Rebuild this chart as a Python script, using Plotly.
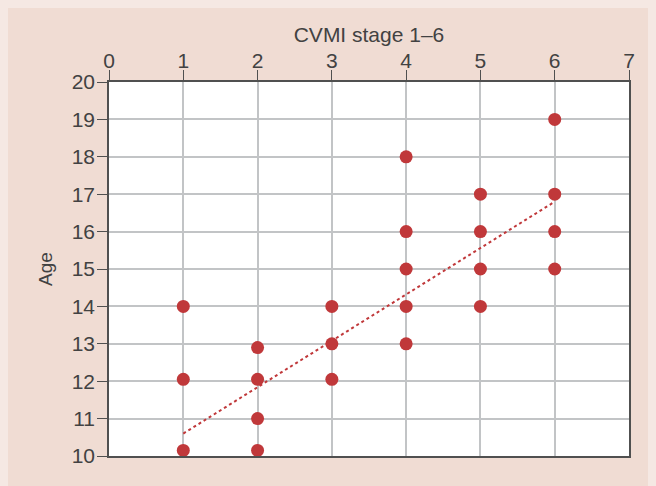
"""Age vs CVMI stage scatter with trend line."""

import plotly.graph_objects as go

STAGE = [1, 1, 1, 2, 2, 2, 2, 3, 3, 3, 4, 4, 4, 4, 4, 5, 5, 5, 5, 6, 6, 6, 6]
AGE = [10.15, 12.05, 14, 10.15, 11, 12.05, 12.9, 12.05, 13, 14,
       13, 14, 15, 16, 18, 14, 15, 16, 17, 15, 16, 17, 19]

TREND_X = [1, 6]
TREND_Y = [10.6, 16.8]

X_TICKS = list(range(0, 8))
Y_TICKS = list(range(10, 21))

DOT = "#c0383a"
TEXT = "#424242"
AXIS = "#505050"
GRID = "#c2c4c6"


def main() -> None:
    fig = go.Figure()

    fig.add_trace(
        go.Scatter(
            x=TREND_X,
            y=TREND_Y,
            mode="lines",
            line=dict(color=DOT, width=2, dash="dot"),
            showlegend=False,
            hoverinfo="skip",
        )
    )
    fig.add_trace(
        go.Scatter(
            x=STAGE,
            y=AGE,
            mode="markers",
            marker=dict(color=DOT, size=13),
            showlegend=False,
        )
    )

    fig.update_layout(
        width=656,
        height=486,
        paper_bgcolor="#f0dcd3",
        plot_bgcolor="#ffffff",
        margin=dict(l=101, r=35, t=74, b=38),
        font=dict(family="Liberation Sans, Arial, sans-serif", size=21, color=TEXT),
    )
    axis_style = dict(
        showgrid=True,
        gridcolor=GRID,
        gridwidth=1.5,
        showline=True,
        linecolor=AXIS,
        linewidth=1.5,
        mirror=True,
        ticks="outside",
        ticklen=10,
        tickcolor=AXIS,
        zeroline=False,
    )
    fig.update_xaxes(
        side="top",
        range=[0, 7],
        tickvals=X_TICKS,
        ticklabelstandoff=-6,
        title=dict(text="CVMI stage 1–6", standoff=0, font=dict(size=21, color=TEXT)),
        **axis_style,
    )
    fig.update_yaxes(
        range=[10, 20],
        tickvals=Y_TICKS,
        ticklabelstandoff=-2,
        title=dict(text="Age", standoff=14, font=dict(size=19, color=TEXT)),
        **axis_style,
    )

    # page margin colour, like the lighter outer frame of the original
    fig.write_html(
        "out.html",
        post_script="document.body.style.background='#f5e8e3';",
    )


if __name__ == "__main__":
    main()
